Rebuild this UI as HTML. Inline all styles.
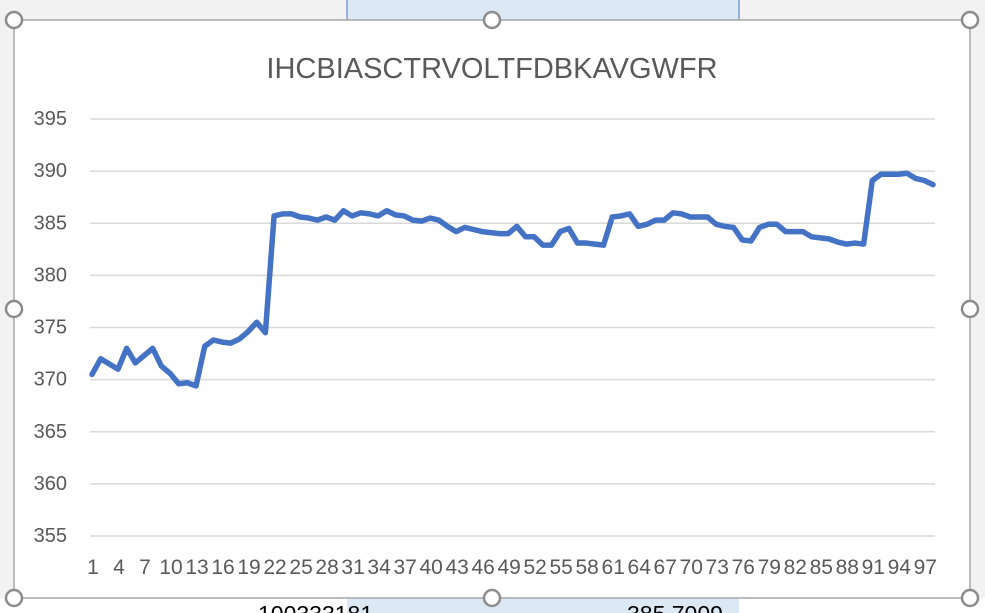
<!DOCTYPE html>
<html><head><meta charset="utf-8"><style>
body{margin:0;width:985px;height:613px;overflow:hidden;background:#fff;font-family:"Liberation Sans",sans-serif}
</style></head><body>
<svg width="985" height="613" style="position:absolute;left:0;top:0">
<rect x="0" y="0" width="985" height="613" fill="#f2f2f2"/>
<rect x="0" y="598" width="985" height="15" fill="#fff"/>
<rect x="347" y="0" width="392" height="613" fill="#dde8f5"/>
<line x1="347" y1="0" x2="347" y2="20" stroke="#4472c4"/>
<line x1="739" y1="0" x2="739" y2="20" stroke="#4472c4"/>
<text x="258" y="622" font-size="23" fill="#000">100333181</text>
<text x="627" y="622" font-size="23" fill="#000">385.7009</text>
<rect x="14" y="20" width="956" height="578" fill="#fff" stroke="#a6a6a6" stroke-width="1.5"/>
<text x="492" y="78" text-anchor="middle" font-size="29" fill="#595959">IHCBIASCTRVOLTFDBKAVGWFR</text>
<g id="grid"></g><g id="ylabels"></g><g id="xlabels"></g>
<polyline id="line" fill="none" stroke="#4472c4" stroke-width="5.5" stroke-linejoin="round" stroke-linecap="round"/>
<g id="handles"></g>
</svg>
<script>
const yTicks=[355,360,365,370,375,380,385,390,395];
const values=[370.5,372,371.5,371,373,371.6,372.3,373,371.3,370.6,369.6,369.7,369.4,373.2,373.8,373.6,373.5,373.9,374.6,375.5,374.5,385.7,385.9,385.9,385.6,385.5,385.3,385.6,385.3,386.2,385.7,386.0,385.9,385.7,386.2,385.8,385.7,385.3,385.2,385.5,385.3,384.7,384.2,384.6,384.4,384.2,384.1,384.0,384.0,384.7,383.7,383.7,382.9,382.9,384.2,384.5,383.1,383.1,383.0,382.9,385.6,385.7,385.9,384.7,384.9,385.3,385.3,386.0,385.9,385.6,385.6,385.6,384.9,384.7,384.6,383.4,383.3,384.6,384.9,384.9,384.2,384.2,384.2,383.7,383.6,383.5,383.2,383.0,383.1,383.0,389.1,389.7,389.7,389.7,389.8,389.3,389.1,388.7];
const categories=values.map((v,i)=>i+1);
const NS="http://www.w3.org/2000/svg";
const yS=v=>536-(v-355)*(417/40);
const xS=i=>92+i*8.67;
const grid=document.getElementById('grid'),yl=document.getElementById('ylabels'),xl=document.getElementById('xlabels');
yTicks.forEach(t=>{
 const l=document.createElementNS(NS,'line');
 l.setAttribute('x1',90);l.setAttribute('x2',935);l.setAttribute('y1',yS(t));l.setAttribute('y2',yS(t));
 l.setAttribute('stroke','#d9d9d9');l.setAttribute('stroke-width','1.5');
 
 
 grid.appendChild(l);
 const tx=document.createElementNS(NS,'text');
 tx.setAttribute('x',67);tx.setAttribute('y',yS(t)+6);tx.setAttribute('text-anchor','end');
 tx.setAttribute('font-size','20');tx.setAttribute('fill','#595959');tx.textContent=t;
 
 
 yl.appendChild(tx);
});
categories.forEach((c,i)=>{
 if(i%3!==0)return;
 const tx=document.createElementNS(NS,'text');
 tx.setAttribute('x',xS(i)+1);tx.setAttribute('y',574);tx.setAttribute('text-anchor','middle');
 tx.setAttribute('font-size','21');tx.setAttribute('fill','#595959');tx.textContent=c;
 
 
 xl.appendChild(tx);
});
document.getElementById('line').setAttribute('points',values.map((v,i)=>xS(i)+','+yS(v)).join(' '));
const hg=document.getElementById('handles');
[[14,20],[492,20],[970,20],[14,309],[970,309],[14,598],[492,598],[970,598]].forEach(p=>{
 const c=document.createElementNS(NS,'circle');
 c.setAttribute('cx',p[0]);c.setAttribute('cy',p[1]);c.setAttribute('r',8);
 c.setAttribute('fill','#fff');c.setAttribute('stroke','#8c8c8c');c.setAttribute('stroke-width','2.5');
 
 
 hg.appendChild(c);
});
</script>
</body></html>
